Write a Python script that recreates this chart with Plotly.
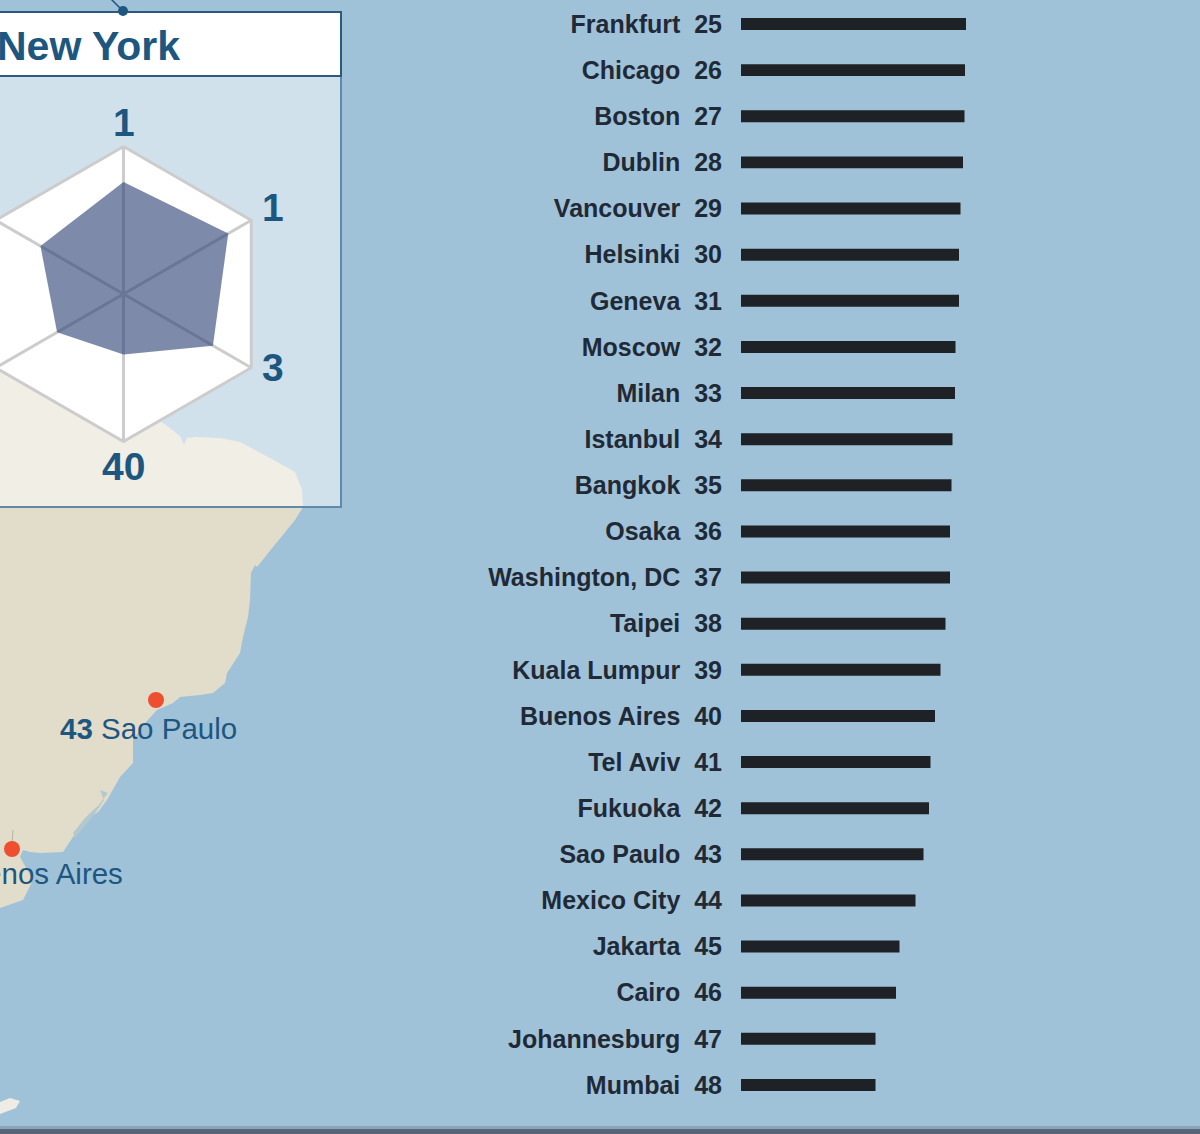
import math
import plotly.graph_objects as go

cities = ["Frankfurt","Chicago","Boston","Dublin","Vancouver","Helsinki","Geneva","Moscow","Milan","Istanbul","Bangkok","Osaka","Washington, DC","Taipei","Kuala Lumpur","Buenos Aires","Tel Aviv","Fukuoka","Sao Paulo","Mexico City","Jakarta","Cairo","Johannesburg","Mumbai"]
ranks = list(range(25, 49))
scores = [225,224,223.5,222,219.5,218,218,214.5,214,211.5,210.5,209,209,204.5,199.5,194,189.5,188,182.5,174.5,158.5,155,134.5,134.5]

radar_values = [0.76,0.82,0.70,0.41,0.52,0.65]
radar_angles = [0,60,120,180,240,300]
radar_labels = ["1","1","3","40"]
radar_label_radius = [1.16,1.17,1.13,1.17]
radar_label_angles = [0,60,116,180]

land_x = [0,163,170,176,180,184,187,195,220,240,270,295,302,303,295,273,257,255,251,250,248,243,240,227,225,213,200,180,173,157,146,133,133,120,107,98,90,73,63,40,30,23,20,33,23,0]
land_y = [340,423,428,433,436,445,438,437,438,442,458,472,490,507,520,547,567,565,573,600,617,637,653,673,683,693,695,697,703,710,722,740,763,777,800,812,817,837,852,853,852,850,857,880,900,908]
island_x = [0,10,20,16,0]
island_y = [1102,1098,1101,1108,1114]
lagoon_x = [100,108,98,90,85,73,75,88,96,104]
lagoon_y = [790,793,806,813,818,833,838,822,812,800]

BG = "#a0c2d8"
LAND = "#e2dccb"
BLUE = "#1d5780"
INK = "#1f2a36"
BAR = "#1e2126"
F = "Liberation Sans"

def path(xs, ys):
    return "M" + " L".join(f"{x},{y}" for x, y in zip(xs, ys)) + " Z"

def rad(a):
    return math.radians(a)

fig = go.Figure()

fig.add_trace(go.Bar(x=scores, y=cities, orientation="h", marker=dict(color=BAR, line_width=0),
                     xaxis="x2", yaxis="y2", hoverinfo="skip", showlegend=False))

hex_a = radar_angles + radar_angles[:1]
fig.add_trace(go.Scatter(x=[math.sin(rad(a)) for a in hex_a], y=[math.cos(rad(a)) for a in hex_a],
                         mode="lines", fill="toself", fillcolor="#ffffff",
                         line=dict(color="#cccccc", width=3), xaxis="x3", yaxis="y3",
                         hoverinfo="skip", showlegend=False))
sx, sy = [], []
for a in radar_angles:
    sx += [0, math.sin(rad(a)), None]
    sy += [0, math.cos(rad(a)), None]
fig.add_trace(go.Scatter(x=sx, y=sy, mode="lines", line=dict(color="#cccccc", width=3),
                         xaxis="x3", yaxis="y3", hoverinfo="skip", showlegend=False))
rv = radar_values + radar_values[:1]
fig.add_trace(go.Scatter(x=[v*math.sin(rad(a)) for v, a in zip(rv, hex_a)],
                         y=[v*math.cos(rad(a)) for v, a in zip(rv, hex_a)],
                         mode="lines", fill="toself", fillcolor="rgba(38,60,112,0.6)", line_width=0,
                         xaxis="x3", yaxis="y3", hoverinfo="skip", showlegend=False))

fig.add_trace(go.Scatter(x=[110,123], y=[-2,11], mode="lines", line=dict(color=BLUE, width=1.5),
                         hoverinfo="skip", showlegend=False))
fig.add_trace(go.Scatter(x=[123], y=[11], mode="markers", marker=dict(color=BLUE, size=10),
                         hoverinfo="skip", showlegend=False))
fig.add_trace(go.Scatter(x=[13,12], y=[830,845], mode="lines", line=dict(color="#b8b2a4", width=1),
                         hoverinfo="skip", showlegend=False))
fig.add_trace(go.Scatter(x=[156,12], y=[700,849], mode="markers", marker=dict(color="#ee4f2f", size=16),
                         hoverinfo="skip", showlegend=False))

shapes = [
    dict(type="path", path=path(land_x, land_y), fillcolor=LAND, line_width=0, layer="below", xref="x", yref="y"),
    dict(type="path", path=path(lagoon_x, lagoon_y), fillcolor="#b4c8d0", line_width=0, layer="below", xref="x", yref="y"),
    dict(type="path", path=path(island_x, island_y), fillcolor="#eeece4", line_width=0, layer="below", xref="x", yref="y"),
    dict(type="rect", x0=-5, x1=341, y0=76, y1=507, fillcolor="rgba(255,255,255,0.5)",
         line=dict(color="#5f8aa8", width=2), layer="below", xref="x", yref="y"),
    dict(type="rect", x0=-5, x1=341, y0=12, y1=76, fillcolor="#ffffff",
         line=dict(color="#2a5a80", width=2), layer="below", xref="x", yref="y"),
    dict(type="rect", x0=0, x1=1200, y0=1126, y1=1129, fillcolor="#8ba4b8", line_width=0, layer="below", xref="x", yref="y"),
    dict(type="rect", x0=0, x1=1200, y0=1129, y1=1134, fillcolor="#566678", line_width=0, layer="below", xref="x", yref="y"),
]

ann = [dict(x=182, y=46, text="<b>New York</b>", xanchor="right", yanchor="middle",
            font=dict(family=F, size=41, color=BLUE), showarrow=False, xref="x", yref="y"),
       dict(x=239, y=728, text="<b>43</b> Sao Paulo", xanchor="right", yanchor="middle",
            font=dict(family=F, size=29.5, color=BLUE), showarrow=False, xref="x", yref="y"),
       dict(x=125, y=873, text="<b>40</b> Buenos Aires", xanchor="right", yanchor="middle",
            font=dict(family=F, size=29.5, color=BLUE), showarrow=False, xref="x", yref="y")]
for lab, a, r in zip(radar_labels, radar_label_angles, radar_label_radius):
    ann.append(dict(x=r*math.sin(rad(a)), y=r*math.cos(rad(a)), text=f"<b>{lab}</b>",
                    xanchor="center", yanchor="middle", font=dict(family=F, size=39, color=BLUE),
                    showarrow=False, xref="x3", yref="y3"))

W, H = 1200, 1134
R = 147.5
CX, CY = 123.5, 294
hidden = dict(visible=False, showgrid=False, zeroline=False, fixedrange=True)
fig.update_layout(
    width=W, height=H, margin=dict(l=0, r=0, t=0, b=0), autosize=False,
    paper_bgcolor=BG, plot_bgcolor="rgba(0,0,0,0)", showlegend=False, shapes=shapes, annotations=ann,
    bargap=0.74,
    xaxis=dict(range=[0, W], domain=[0, 1], **hidden),
    yaxis=dict(range=[H, 0], domain=[0, 1], **hidden),
    xaxis2=dict(range=[0, 459], domain=[741/W, 1], anchor="y2", **hidden),
    yaxis2=dict(type="category", categoryorder="array", categoryarray=cities,
                range=[23.5, -0.5], domain=[1-1108/H, 1-0.93/H], anchor="x2",
                tickmode="array", tickvals=cities,
                ticktext=[f"{c}\u00a0\u00a0{r}" for c, r in zip(cities, ranks)],
                ticks="outside", ticklen=13, tickcolor="rgba(0,0,0,0)", showline=False,
                showgrid=False, zeroline=False, fixedrange=True,
                tickfont=dict(family=F, size=25, color=INK, weight=700)),
    xaxis3=dict(range=[-CX/R, (W-CX)/R], domain=[0, 1], anchor="y3", **hidden),
    yaxis3=dict(range=[-(H-CY)/R, CY/R], domain=[0, 1], anchor="x3", **hidden),
)
fig.write_html("out.html", config={"displayModeBar": False},
               post_script="document.documentElement.style.margin='0';document.body.style.margin='0';document.body.style.overflow='hidden';")
